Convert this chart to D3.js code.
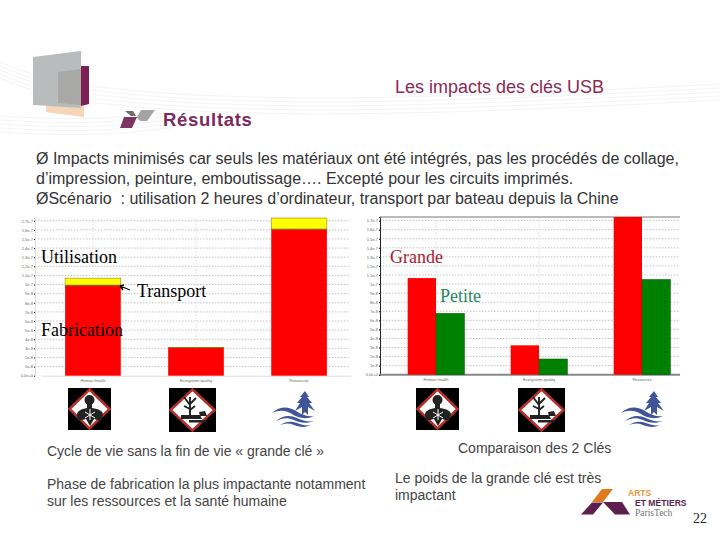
<!DOCTYPE html>
<html>
<head>
<meta charset="utf-8">
<script src="https://cdnjs.cloudflare.com/ajax/libs/d3/7.8.5/d3.min.js"></script>
<style>
html, body { margin: 0; padding: 0; background: #fff; }
svg { display: block; }
text { font-family: "Liberation Sans", Arial, sans-serif; }
.serif { font-family: "Liberation Serif", "Times New Roman", serif; }
.tiny { font-size: 4px; fill: #666; }
.body { white-space: pre; }
</style>
</head>
<body>
<svg width="720" height="540"></svg>
<script>
// values are in tick units, the axis labels are too blurred to read exactly
var categories = ["Human health", "Ecosystem quality", "Resources"];
var fabrication = [9.85, 3.05, 16.05];
var transport = [0.1, 0.05, 0.05];
var utilisation = [0.75, 0, 1.2];
var grande = [10.66, 3.24, 17.4];
var petite = [6.76, 1.73, 10.5];
var tickValues = [0, 1, 2, 3, 4, 5, 6, 7, 8, 9, 10, 11, 12, 13, 14, 15, 16, 17];
var tickLabels = ["0,0e+0", "1e-8", "2e-8", "3e-8", "4e-8", "5e-8", "6e-8", "7e-8", "8e-8", "9e-8",
    "1e-7", "1,1e-7", "1,2e-7", "1,3e-7", "1,4e-7", "1,5e-7", "1,6e-7", "1,7e-7"];

var bodyLines = [
    ["Ø Impacts minimisés car seuls les matériaux ont été intégrés, pas les procédés de collage,", 36, 164],
    ["d’impression, peinture, emboutissage…. Excepté pour les circuits imprimés.", 36, 184],
    ["ØScénario  : utilisation 2 heures d’ordinateur, transport par bateau depuis la Chine", 36, 204]
];
var captions = [
    ["Cycle de vie sans la fin de vie « grande clé »", 47, 456],
    ["Phase de fabrication la plus impactante notamment", 47, 489],
    ["sur les ressources et la santé humaine", 47, 506],
    ["Comparaison des 2 Clés", 458, 453],
    ["Le poids de la grande clé est très", 395, 483],
    ["impactant", 395, 500]
];

var svg = d3.select("svg");

// faint background streaks of the slide template
var streaks = svg.append("g").attr("fill", "none").attr("stroke", "#f4f4f4").attr("stroke-width", 1);
[0, 4, 8, 12, 16].forEach(function (d) {
    streaks.append("path").attr("d", "M0," + (62 + d) + " C20," + (70 + d) + " 30," + (75 + d) + " 60," + (80 + d));
    streaks.append("path").attr("d", "M0," + (116 + d) + " C60," + (120 + d) + " 110," + (120 + d) + " 170," + (112 + d));
    streaks.append("path").attr("d", "M90," + (86 + d) + " C240," + (104 + d) + " 420," + (100 + d) + " 720," + (84 + d));
});

// top left logo
var logo = svg.append("g");
logo.append("polygon").attr("points", "46,106 84,106 84,117 46,112").attr("fill", "#f6d6b6");
logo.append("polygon").attr("points", "81,66 89,66 89,104 81,106").attr("fill", "#7b1f55");
logo.append("polygon").attr("points", "33,57 81,51 81,108 33,105").attr("fill", "#b9bcbc");
logo.append("polygon").attr("points", "58,72 81,69 81,105 58,103").attr("fill", "#a8a8a6");

// small logo next to the section title
logo.append("polygon").attr("points", "125,111 133,111 136,116 131,116").attr("fill", "#6e6e6e");
logo.append("polygon").attr("points", "124,117 137,117 132,128 120,128").attr("fill", "#7a3560");
logo.append("polygon").attr("points", "141,110 155,110 147,121 140,121 137,117").attr("fill", "#a4a4a4");

svg.append("text").attr("x", 395).attr("y", 92.5).attr("fill", "#8c2a55").style("font-size", "18px")
    .text("Les impacts des clés USB");
svg.append("text").attr("x", 163).attr("y", 125.5).attr("fill", "#7a2a5e").style("font-size", "18.5px")
    .style("font-weight", "bold").style("letter-spacing", "0.7px").text("Résultats");

svg.selectAll(".body").data(bodyLines).enter().append("text")
    .attr("class", "body")
    .attr("x", function (d) { return d[1]; })
    .attr("y", function (d) { return d[2]; })
    .attr("fill", "#333")
    .style("font-size", "16px")
    .text(function (d) { return d[0]; });

svg.selectAll(".caption").data(captions).enter().append("text")
    .attr("class", "caption")
    .attr("x", function (d) { return d[1]; })
    .attr("y", function (d) { return d[2]; })
    .attr("fill", "#444")
    .style("font-size", "14px")
    .text(function (d) { return d[0]; });

function drawAxes(g, x, y, left, right) {
    g.append("g").selectAll("line").data(tickValues.slice(1)).enter().append("line")
        .attr("x1", left).attr("x2", right)
        .attr("y1", function (d) { return y(d); })
        .attr("y2", function (d) { return y(d); })
        .attr("stroke", "#c4c4c4").attr("stroke-dasharray", "1.5,1.5");

    g.append("g").selectAll("line").data(categories.slice(0, 2)).enter().append("line")
        .attr("x1", function (d) { return x(d) + x.bandwidth() / 2; })
        .attr("x2", function (d) { return x(d) + x.bandwidth() / 2; })
        .attr("y1", y.range()[0]).attr("y2", y.range()[1])
        .attr("stroke", "#dcdcdc").attr("stroke-dasharray", "1.5,1.5");

    var yAxis = d3.axisLeft(y).tickValues(tickValues).tickSize(1).tickPadding(1)
        .tickFormat(function (d, i) { return tickLabels[i]; });
    var yg = g.append("g").attr("transform", "translate(" + left + ",0)").call(yAxis);
    yg.selectAll("text").attr("class", "tiny");

    var xAxis = d3.axisBottom(x).tickSize(0).tickPadding(3);
    var xg = g.append("g").attr("transform", "translate(0," + y.range()[0] + ")").call(xAxis);
    xg.selectAll("text").attr("class", "tiny");
    return [yg, xg];
}

// left chart: stacked life cycle
var xLeft = d3.scaleBand().domain(categories).range([41.4, 350.6]).paddingInner(0.46).paddingOuter(0.23);
var yLeft = d3.scaleLinear().domain([0, 17.3]).range([375.7, 218]);
var leftChart = svg.append("g");
var leftAxes = drawAxes(leftChart, xLeft, yLeft, 35, 350);
leftAxes[0].select(".domain").attr("stroke", "#ddd");
leftAxes[1].select(".domain").attr("stroke", "#ddd");

var stack = d3.stack().keys(["fabrication", "transport", "utilisation"]);
var stackRows = categories.map(function (c, i) {
    return { fabrication: fabrication[i], transport: transport[i], utilisation: utilisation[i] };
});
var stackColors = { fabrication: "#fe0000", transport: "#7a5a10", utilisation: "#ffff00" };
leftChart.selectAll(".layer").data(stack(stackRows)).enter().append("g")
    .attr("class", "layer")
    .attr("fill", function (d) { return stackColors[d.key]; })
    .attr("stroke", function (d) { return d.key == "fabrication" ? "none" : "#8a6a10"; })
    .attr("stroke-width", 0.5)
    .selectAll("rect").data(function (d) { return d; }).enter().append("rect")
    .attr("x", function (d, i) { return xLeft(categories[i]); })
    .attr("y", function (d) { return yLeft(d[1]); })
    .attr("width", xLeft.bandwidth())
    .attr("height", function (d) { return yLeft(d[0]) - yLeft(d[1]); });

// right chart: big key against small key
var xRight = d3.scaleBand().domain(categories).range([384.5, 693.5]).paddingInner(0.45).paddingOuter(0.225);
var xInner = d3.scaleBand().domain(["grande", "petite"]).range([0, xRight.bandwidth()]);
var yRight = d3.scaleLinear().domain([0, 17.4]).range([374.7, 217]);
var rightChart = svg.append("g");
var rightAxes = drawAxes(rightChart, xRight, yRight, 380, 680);
rightAxes[0].select(".domain").attr("stroke", "#222").attr("stroke-width", 1);
rightAxes[1].select(".domain").attr("stroke", "#888").attr("stroke-width", 2);
rightAxes[1].select(".domain").attr("d", "M380,0H680");
rightChart.append("line").attr("x1", 380).attr("x2", 680).attr("y1", 217).attr("y2", 217)
    .attr("stroke", "#777");

[["grande", grande, "#fe0000", "none"], ["petite", petite, "#008000", "#0a5a0a"]].forEach(function (s) {
    rightChart.append("g").selectAll("rect").data(s[1]).enter().append("rect")
        .attr("x", function (d, i) { return xRight(categories[i]) + xInner(s[0]); })
        .attr("y", function (d) { return yRight(d); })
        .attr("width", xInner.bandwidth())
        .attr("height", function (d) { return yRight(0) - yRight(d); })
        .attr("fill", s[2])
        .attr("stroke", s[3])
        .attr("stroke-width", 0.6);
});

// labels typed over the charts on the slide
var overlays = [
    ["Utilisation", 41, 263, "#000"],
    ["Transport", 137, 297, "#000"],
    ["Fabrication", 41, 336, "#000"],
    ["Grande", 390, 263, "#a81c2c"],
    ["Petite", 440, 302, "#1f8a5c"]
];
svg.selectAll(".overlay").data(overlays).enter().append("text")
    .attr("class", "overlay serif")
    .attr("x", function (d) { return d[1]; })
    .attr("y", function (d) { return d[2]; })
    .attr("fill", function (d) { return d[3]; })
    .style("font-size", "18px")
    .text(function (d) { return d[0]; });
svg.append("path").attr("d", "M120,286 L130,290 M120,286 L123,290 M120,286 L124,285")
    .attr("stroke", "#000").attr("stroke-width", 1.3).attr("fill", "none");

// hazard pictograms
function hazard(px, py, w, h, kind) {
    var g = svg.append("g").attr("transform", "translate(" + px + "," + py + ")");
    g.append("rect").attr("width", w).attr("height", h).attr("fill", "#000");
    g.append("polygon")
        .attr("points", (w / 2) + ",1.5 " + (w - 1.5) + "," + (h / 2) + " " + (w / 2) + "," + (h - 1.5) + " 1.5," + (h / 2))
        .attr("fill", "#fff").attr("stroke", "#b5302a").attr("stroke-width", 2.5);
    if (kind == "health") {
        g.append("circle").attr("cx", w / 2).attr("cy", 12).attr("r", 5).attr("fill", "#222");
        g.append("path").attr("d", "M19,15 L24,15 L24,20 C31,21 35,23 35,27 L33,33 L26,31 L22,38 L18,31 L10,33 L9,27 C9,23 13,21 19,20 Z")
            .attr("fill", "#222");
        g.append("path").attr("d", "M22,21 L22,32 M17,24 L27,30 M27,24 L17,30").attr("stroke", "#fff").attr("stroke-width", 1);
    } else {
        g.append("path").attr("d", "M21,28 L21,9 M21,17 L15,9 M21,16 L27,10 M21,21 L15,18 M21,22 L26,18")
            .attr("stroke", "#222").attr("stroke-width", 1.9).attr("fill", "none");
        g.append("path").attr("d", "M12,27 L31,27 L33,31 L12,31 Z M20,32 L37,32 L37,34.5 L20,34.5 Z M30,24 L36,23 L38,28 L31,28 Z")
            .attr("fill", "#222");
    }
}
hazard(68, 388, 43, 42, "health");
hazard(169, 388, 47, 44, "eco");
hazard(416, 388, 43, 42, "health");
hazard(518, 388, 47, 44, "eco");

// resources symbol: tree over water
function resources(px, py) {
    var g = svg.append("g").attr("transform", "translate(" + px + "," + py + ")").attr("fill", "#3f5597");
    g.append("path").attr("d", "M33,0 L37,6 L35,6 L40,12 L37,12 L43,20 L36,16 L36,24 L33,21 L30,24 L30,16 L23,20 L28,12 L25,12 L30,6 L28,6 Z");
    g.append("path").attr("d", "M0,22 C8,15 16,15 24,20 C30,24 36,26 42,25 C34,29 26,27 20,23 C13,19 7,19 0,22 Z");
    g.append("path").attr("d", "M4,30 C11,24 18,24 25,27 C31,30 37,31 42,30 C35,33 28,32 22,29 C15,26 10,27 4,30 Z");
    g.append("path").attr("d", "M7,35 C13,30 19,30 25,32 C30,34 35,35 39,34 C33,37 27,36 22,34 C17,32 12,32 7,35 Z");
}
resources(272, 391);
resources(621, 391);

// Arts et Metiers logo
var am = svg.append("g");
am.append("polygon").attr("points", "602,489 613,489 603,502 592,502").attr("fill", "#e07a1f");
am.append("polygon").attr("points", "592,502.5 603,502.5 593,514.5 581,514.5").attr("fill", "#5c1f4f");
am.append("polygon").attr("points", "603,502 622,502 630,514.5 615,514.5").attr("fill", "#5c1f4f");
am.append("text").attr("x", 628).attr("y", 495.5).attr("fill", "#e8973f").style("font-size", "8.5px")
    .style("font-weight", "bold").text("ARTS");
am.append("text").attr("x", 635).attr("y", 505.5).attr("fill", "#5c1f4f").style("font-size", "8.6px")
    .style("font-weight", "bold").text("ET MÉTIERS");
am.append("text").attr("class", "serif").attr("x", 635).attr("y", 515.5).attr("fill", "#777")
    .style("font-size", "9.5px").text("ParisTech");

svg.append("text").attr("class", "serif").attr("x", 693).attr("y", 523).attr("fill", "#222")
    .style("font-size", "14px").text("22");
</script>
</body>
</html>
